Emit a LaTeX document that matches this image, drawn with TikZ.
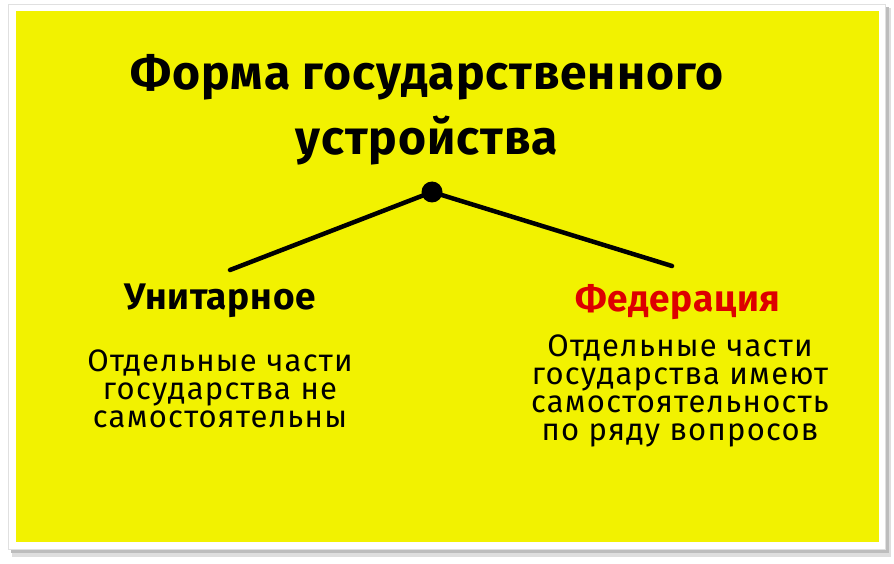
\documentclass[tikz,border=0pt]{standalone}
\usepackage{fontspec}
\setmainfont{Fira Sans}
\newfontfamily\bodyfont[LetterSpace=4]{Fira Sans}
\newfontfamily\titlefont[LetterSpace=2]{Fira Sans}
\definecolor{bgyellow}{HTML}{F2F200}
\definecolor{fedred}{HTML}{DD0000}
\definecolor{shadowgray}{HTML}{BDBDBD}
\begin{document}
\begin{tikzpicture}[x=1pt,y=-1pt,
  title/.style={font=\titlefont\fontsize{48}{65}\selectfont\bfseries, align=center, text=black},
  head/.style={font=\titlefont\fontsize{37}{40}\selectfont\bfseries, align=center},
  body/.style={font=\bodyfont\fontsize{31}{28}\selectfont, align=center, text=black},
  link/.style={line width=4.5pt, line cap=round}]
\useasboundingbox (0,0) rectangle (894,564);
\fill[white] (0,0) rectangle (894,564);
% shadow
\fill[shadowgray!50] (12,8) rectangle (891,557);
\fill[shadowgray] (11,7) rectangle (889,553);
\fill[white, draw=black!12, line width=0.6pt] (8,4) rectangle (885,549);
\fill[bgyellow] (16,11) rectangle (879,542);
% title
\node[title] (t) at (427,110) {Форма государственного\\устройства};
\fill (432,192) circle (10.5);
\coordinate (dotc) at (432,192);
\coordinate (lend) at (230,270);
\coordinate (rend) at (672,266);
\draw[link] (dotc) -- (lend);
\draw[link] (dotc) -- (rend);
\node[head, text=black] (u) at (220,301) {Унитарное};
\node[head, text=fedred] (f) at (678,302) {Федерация};
\node[body] (ub) at (220,389) {Отдельные части\\государства не\\самостоятельны};
\node[body] (fb) at (680,391) {Отдельные части\\государства имеют\\самостоятельность\\по ряду вопросов};
\end{tikzpicture}
\end{document}
